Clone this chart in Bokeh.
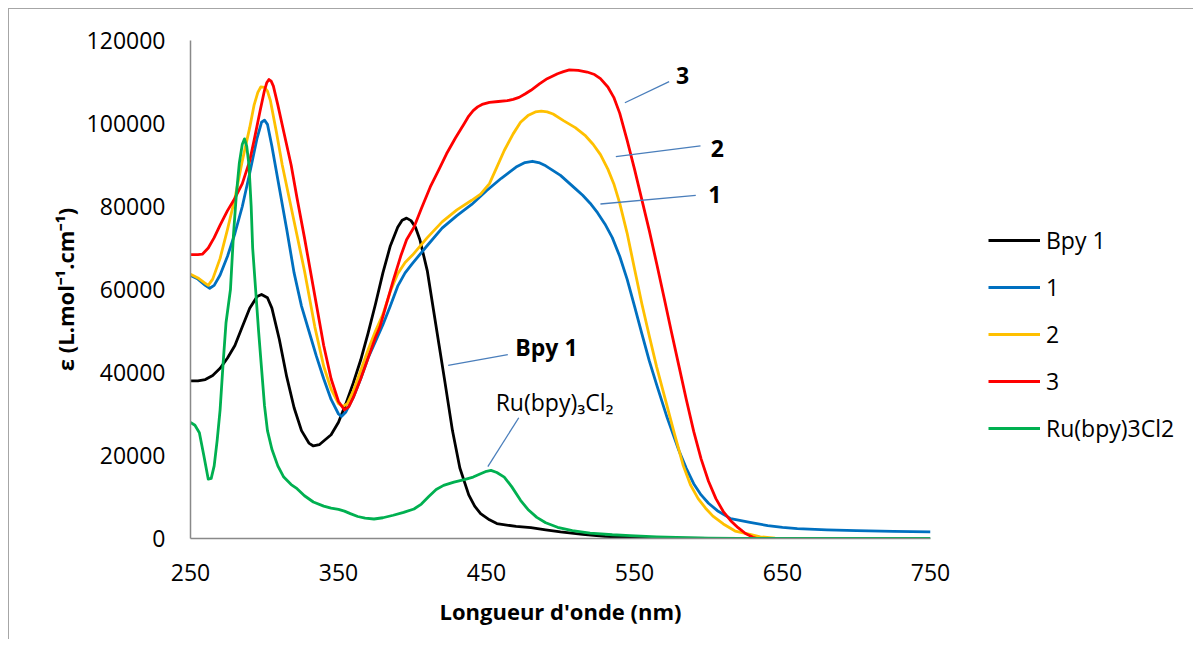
from bokeh.plotting import figure
from bokeh.models import (Range1d, FixedTicker, BasicTickFormatter, Legend, LegendItem,
                          ColumnDataSource)
from bokeh.core.properties import value
from bokeh.embed import file_html
from bokeh.resources import INLINE

FONT = "Open Sans"

# ---------------- data (wavelength nm, epsilon in L.mol-1.cm-1 /1000) ----------------
bpy1_wl = [250, 255, 260, 265, 270, 275, 280, 285, 290, 295, 298, 302, 305, 310, 315, 320, 325,
           330, 333, 337, 340, 345, 350, 355, 360, 365, 370, 375, 380, 385, 390, 393, 396, 399,
           402, 405, 410, 414, 418, 422, 427, 432, 438, 442, 446, 452, 457, 470, 480, 490, 500,
           515, 530, 550, 570, 600, 625]
bpy1_eps = [38.0, 38.0, 38.3, 39.3, 41.0, 43.5, 46.5, 51.0, 55.5, 58.3, 58.8, 58.0, 55.5, 48.0,
            39.0, 31.5, 26.0, 23.0, 22.3, 22.6, 23.5, 25.0, 28.0, 32.5, 37.5, 43.0, 49.5, 56.5,
            64.0, 70.5, 75.0, 76.7, 77.2, 76.6, 75.0, 72.0, 64.5, 55.5, 46.5, 37.5, 26.0, 17.0,
            10.5, 7.8, 6.0, 4.5, 3.6, 2.9, 2.6, 2.1, 1.6, 1.0, 0.5, 0.2, 0.1, 0.0, 0.0]

c1_wl = [250, 255, 260, 263, 266, 270, 275, 280, 285, 290, 295, 298, 300, 302, 305, 310, 315,
         320, 325, 330, 335, 340, 345, 350, 352, 355, 360, 365, 370, 375, 380, 385, 390, 395,
         400, 410, 420, 430, 440, 450, 460, 470, 476, 481, 486, 490, 500, 510, 515, 520, 525,
         530, 535, 540, 545, 550, 555, 560, 565, 572, 580, 585, 590, 595, 600, 606, 615, 628,
         640, 650, 660, 680, 700, 725, 750]
c1_eps = [63.4, 62.5, 61.0, 60.3, 61.0, 63.5, 68.0, 73.5, 80.0, 88.0, 96.5, 100.3, 100.8, 99.8,
          94.5, 84.5, 74.5, 64.0, 56.0, 50.0, 44.0, 38.5, 33.5, 30.0, 29.4, 30.5, 34.0, 38.5,
          43.5, 47.5, 51.5, 56.0, 60.8, 64.0, 66.3, 70.6, 74.8, 77.8, 80.5, 83.8, 86.8, 89.5,
          90.6, 90.9, 90.5, 89.8, 87.5, 84.3, 82.7, 80.8, 78.5, 75.8, 72.5, 68.0, 62.5, 56.0,
          49.3, 42.8, 37.0, 29.2, 21.2, 16.9, 13.2, 10.5, 8.5, 6.7, 4.8, 3.9, 3.1, 2.7, 2.4,
          2.1, 1.9, 1.7, 1.6]

c2_wl = [250, 255, 260, 262, 265, 270, 275, 280, 285, 290, 293, 295.5, 297.5, 300, 302, 304,
         308, 312, 317, 322, 327, 334, 340, 345, 350, 353, 356, 360, 365, 370, 375, 380, 385,
         390, 395, 400, 410, 420, 430, 440, 446, 452, 457, 462, 468, 473, 478, 483, 487, 491,
         495, 502, 510, 517, 522, 527, 532, 536, 540, 545, 550, 555, 560, 565, 571, 577, 583,
         588, 593, 598, 603, 610, 618, 628, 635, 645, 650]
c2_eps = [63.7, 62.8, 61.5, 61.0, 62.5, 67.5, 74.5, 82.0, 91.0, 99.0, 104.5, 107.5, 108.8,
          108.7, 107.8, 105.5, 98.0, 90.0, 81.5, 73.0, 64.5, 51.0, 41.5, 36.0, 32.5, 31.8, 32.5,
          35.5, 40.5, 45.5, 50.0, 54.0, 59.5, 63.8, 66.5, 68.3, 72.5, 76.3, 79.2, 81.5, 83.0,
          85.5, 89.5, 93.5, 97.5, 100.3, 101.9, 102.8, 103.0, 102.8, 102.3, 100.7, 99.0, 97.0,
          95.0, 92.5, 89.0, 85.5, 80.8, 73.6, 65.0, 56.5, 48.8, 41.3, 33.3, 25.2, 17.5, 12.8,
          9.6, 7.3, 5.4, 3.5, 1.8, 1.0, 0.4, 0.1, 0.0]

c3_wl = [250, 255, 258, 262, 266, 270, 275, 280, 285, 290, 293, 297, 300, 301.5, 303, 304.5,
         306, 309, 313, 318, 322, 327, 335, 340, 345, 350, 354, 357, 360, 365, 370, 375, 378,
         382, 387, 392, 396, 401, 406, 412, 418, 423, 429, 435, 438, 441, 444, 447, 452, 458,
         464, 468, 472, 476, 480, 486, 491, 498, 502, 506, 512, 518, 523, 527, 532, 536, 540,
         545, 550, 555, 560, 565, 570, 575, 580, 585, 590, 595, 600, 605, 610, 615, 620, 625,
         630, 633]
c3_eps = [68.4, 68.4, 68.5, 70.0, 72.5, 75.5, 79.0, 82.0, 85.5, 91.0, 96.0, 103.0, 108.0, 109.8,
          110.6, 110.2, 109.0, 104.5, 98.0, 90.0, 82.0, 72.5, 56.5, 46.5, 38.5, 33.0, 31.0,
          31.8, 34.0, 38.5, 43.5, 48.5, 51.0, 56.0, 62.2, 68.0, 72.0, 75.0, 79.5, 84.7, 89.0,
          92.7, 96.5, 100.0, 101.8, 103.1, 104.0, 104.6, 105.1, 105.3, 105.5, 105.8, 106.3,
          107.1, 108.0, 109.6, 110.8, 112.0, 112.5, 112.9, 112.8, 112.4, 111.8, 110.8, 108.8,
          106.3, 102.5, 96.0, 89.0, 81.6, 74.2, 66.2, 58.0, 49.7, 41.6, 33.5, 25.8, 19.2, 13.8,
          9.6, 6.5, 4.3, 2.6, 1.2, 0.3, 0.0]

ru_wl = [250, 253, 256, 259, 262, 264, 266, 268, 270, 272, 274, 277, 279, 281, 283, 285, 286.5,
         288, 289.5, 291, 292, 294, 296, 298, 300, 302, 305, 309, 313, 318, 322, 327, 333, 340,
         345, 350, 354, 358, 363, 368, 374, 380, 387, 394, 401, 406, 411, 416, 421, 428, 435,
         441, 446, 450, 453, 457, 462, 467, 473, 478, 484, 490, 498, 508, 520, 535, 547, 565,
         585, 600, 620, 750]
ru_eps = [28.0, 27.3, 25.5, 20.0, 14.3, 14.5, 17.5, 23.6, 31.0, 42.0, 52.0, 60.0, 73.0, 83.0,
          90.5, 95.0, 96.3, 94.5, 90.0, 80.0, 70.0, 60.0, 50.0, 41.0, 32.0, 26.0, 21.5, 17.5,
          14.8, 13.0, 12.0, 10.3, 8.8, 7.8, 7.3, 7.0, 6.6, 6.0, 5.3, 4.9, 4.7, 5.0, 5.6, 6.3,
          7.1, 8.3, 10.1, 11.8, 12.8, 13.6, 14.2, 14.8, 15.6, 16.2, 16.4, 15.9, 14.8, 12.5, 9.2,
          7.0, 5.1, 3.8, 2.7, 1.9, 1.3, 0.9, 0.7, 0.4, 0.2, 0.1, 0.0, 0.0]

series_names = ["Bpy 1", "1", "2", "3", "Ru(bpy)3Cl2"]
series_colors = ["#000000", "#0070C0", "#FFC000", "#FF0000", "#00B050"]

x_ticks = [250, 350, 450, 550, 650, 750]
y_ticks = [0, 20000, 40000, 60000, 80000, 100000, 120000]

# annotations: label, text position, leader start/end (wavelength, epsilon)
ann_text = ["3", "2", "1", "Bpy 1", "Ru(bpy)\u2083Cl\u2082"]
ann_bold = ["bold", "bold", "bold", "bold", "normal"]
ann_x = [582.4, 605.9, 604.3, 490.5, 496.0]
ann_y = [111600, 93900, 82900, 46100, 32800]
lead_x0 = [543.5, 537.4, 527.0, 424.1, 450.9]
lead_y0 = [105000, 92000, 80600, 41700, 17300]
lead_x1 = [573.4, 594.6, 591.4, 464.4, 471.8]
lead_y1 = [110100, 94600, 82700, 44300, 29100]

# ---------------- figure ----------------
p = figure(frame_width=740, frame_height=498, output_backend="svg", toolbar_location=None,
           x_range=Range1d(250, 750), y_range=Range1d(0, 120000),
           min_border_left=181, min_border_right=10, min_border_top=31, min_border_bottom=101)
p.styles = {"border-left": "1px solid #a6a6a6", "border-top": "1px solid #a6a6a6",
            "margin-left": "8px", "margin-top": "8px"}
p.background_fill_color = "white"
p.border_fill_color = "white"
p.outline_line_color = None
p.xgrid.visible = False
p.ygrid.visible = False

for ax in (p.xaxis[0], p.yaxis[0]):
    ax.axis_line_color = "#898989"
    ax.axis_line_width = 1.5
    ax.major_tick_line_color = None
    ax.minor_tick_line_color = None
    ax.major_tick_out = 0
    ax.major_tick_in = 0
    ax.major_label_text_font = FONT
    ax.major_label_text_font_size = "23px"
    ax.major_label_text_color = "#000000"
    ax.axis_label_text_font = FONT
    ax.axis_label_text_font_size = "22px"
    ax.axis_label_text_font_style = "bold"
    ax.axis_label_text_color = "#000000"

p.xaxis[0].ticker = FixedTicker(ticks=x_ticks)
p.yaxis[0].ticker = FixedTicker(ticks=y_ticks)
p.yaxis[0].formatter = BasicTickFormatter(use_scientific=False)
p.xaxis[0].major_label_standoff = 25
p.yaxis[0].major_label_standoff = 25
p.xaxis[0].axis_label = "Longueur d'onde (nm)"
p.yaxis[0].axis_label = "\u03b5 (L.mol\u207b\u00b9.cm\u207b\u00b9)"
p.xaxis[0].axis_label_standoff = 12
p.yaxis[0].axis_label_standoff = 4

all_wl = [bpy1_wl, c1_wl, c2_wl, c3_wl, ru_wl]
all_eps = [bpy1_eps, c1_eps, c2_eps, c3_eps, ru_eps]
items = []
for name, col, wl, eps in zip(series_names, series_colors, all_wl, all_eps):
    src = ColumnDataSource(dict(x=wl, y=[e * 1000 for e in eps]))
    r = p.line("x", "y", source=src, line_color=col, line_width=2.8, line_join="round")
    items.append(LegendItem(label=name, renderers=[r]))

legend = Legend(items=items, location=(58, 94), orientation="vertical",
                glyph_width=52, glyph_height=32, label_height=32, spacing=15,
                label_standoff=6, padding=0, margin=0,
                label_text_font=FONT, label_text_font_size="23px",
                label_text_color="#000000",
                border_line_color=None, background_fill_alpha=0)
p.add_layout(legend, "right")

# leader lines and annotation labels
lead_src = ColumnDataSource(dict(x0=lead_x0, y0=lead_y0, x1=lead_x1, y1=lead_y1))
p.segment("x0", "y0", "x1", "y1", source=lead_src, line_color="#4A7EBB", line_width=1.3)

for t, fs, x, y in zip(ann_text, ann_bold, ann_x, ann_y):
    p.text(x=[x], y=[y], text=[t], text_font=value(FONT), text_font_size="23px",
           text_font_style=fs, text_color="#000000", text_align="center",
           text_baseline="middle")

open("out.html", "w").write(file_html(p, INLINE))
